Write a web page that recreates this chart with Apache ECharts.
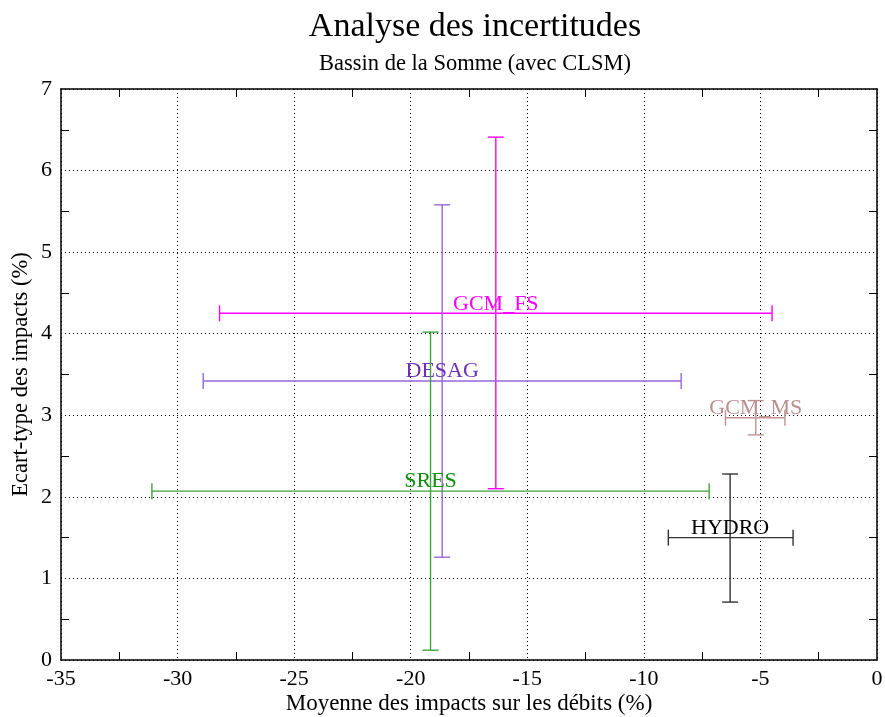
<!DOCTYPE html>
<html>
<head>
<meta charset="utf-8">
<script src="https://cdn.jsdelivr.net/npm/echarts@6/dist/echarts.min.js"></script>
<style>html,body{margin:0;padding:0;background:#fff}#c{width:885px;height:717px}</style>
</head>
<body>
<div id="c"></div>
<script>
// Data
const names   = ['GCM_FS', 'DESAG', 'SRES', 'GCM_MS', 'HYDRO'];
const meanX   = [-16.35, -18.65, -19.15, -5.2, -6.3];
const meanY   = [4.25, 3.42, 2.07, 2.97, 1.50];
const xLow    = [-28.2, -28.9, -31.1, -6.5, -8.95];
const xHigh   = [-4.5, -8.4, -7.2, -3.95, -3.6];
const yLow    = [2.10, 1.26, 0.12, 2.76, 0.71];
const yHigh   = [6.41, 5.58, 4.02, 3.18, 2.28];
const lineColors = ['#ff00ff', '#9a66d8', '#3ea23e', '#c09292', '#333333'];
const textColors = ['#ff00ff', '#7030b8', '#109010', '#bc8f8f', '#000000'];

const font = '"Liberation Serif", "Times New Roman", serif';
const chart = echarts.init(document.getElementById('c'));

function renderItem(params, api) {
  const cx = api.value(0), cy = api.value(1);
  const xl = api.value(2), xh = api.value(3), yl = api.value(4), yh = api.value(5);
  const idx = params.seriesIndex;
  const pL = api.coord([xl, cy]), pR = api.coord([xh, cy]);
  const pT = api.coord([cx, yh]), pB = api.coord([cx, yl]);
  const pc = api.coord([cx, cy]);
  const cap = 8;
  const st = { stroke: lineColors[idx], lineWidth: 1.4 };
  const ln = (x1, y1, x2, y2) => ({ type: 'line', shape: { x1, y1, x2, y2 }, style: st });
  return {
    type: 'group',
    children: [
      ln(pL[0], pL[1], pR[0], pR[1]),
      ln(pL[0], pL[1] - cap, pL[0], pL[1] + cap),
      ln(pR[0], pR[1] - cap, pR[0], pR[1] + cap),
      ln(pT[0], pT[1], pB[0], pB[1]),
      ln(pT[0] - cap, pT[1], pT[0] + cap, pT[1]),
      ln(pB[0] - cap, pB[1], pB[0] + cap, pB[1]),
      {
        type: 'text',
        style: {
          text: names[idx], x: pc[0], y: pc[1] - 9.5,
          align: 'center', verticalAlign: 'middle',
          fill: textColors[idx], font: '22px ' + font
        }
      }
    ]
  };
}

const series = names.map((n, i) => ({
  type: 'custom', name: n, renderItem,
  xAxisIndex: 0, yAxisIndex: 0,
  encode: { x: [0, 2, 3], y: [1, 4, 5] },
  data: [[meanX[i], meanY[i], xLow[i], xHigh[i], yLow[i], yHigh[i]]],
  z: 10
}));

const tickStyle = { color: '#000', width: 1 };
const axisLineStyle = { color: '#000', width: 1.5 };
const gridLine = { show: true, lineStyle: { color: '#000', width: 1, type: [1, 3] } };

chart.setOption({
  animation: false,
  backgroundColor: '#fff',
  title: [
    { text: 'Analyse des incertitudes', left: 470, top: 5, textAlign: 'center',
      textStyle: { fontFamily: font, fontSize: 34, fontWeight: 'normal', color: '#000' } },
    { text: 'Bassin de la Somme (avec CLSM)', left: 470, top: 48, textAlign: 'center',
      textStyle: { fontFamily: font, fontSize: 22.5, fontWeight: 'normal', color: '#000' } }
  ],
  grid: { left: 61, right: 8, top: 89, bottom: 57, containLabel: false, outerBoundsMode: 'none' },
  xAxis: [
    { type: 'value', min: -35, max: 0, interval: 5, position: 'bottom',
      name: 'Moyenne des impacts sur les débits (%)', nameLocation: 'middle', nameGap: 32,
      nameMoveOverlap: false,
      nameTextStyle: { fontFamily: font, fontSize: 23, color: '#000' },
      axisLine: { show: true, onZero: false, lineStyle: axisLineStyle },
      axisTick: { show: false, inside: true },
      minorTick: { show: true, splitNumber: 2, length: 8, lineStyle: tickStyle },
      axisLabel: { fontFamily: font, fontSize: 22, color: '#000', margin: 8 },
      splitLine: gridLine },
    { type: 'value', min: -35, max: 0, interval: 5, position: 'top',
      axisLine: { show: true, onZero: false, lineStyle: axisLineStyle },
      axisTick: { show: false, inside: true },
      minorTick: { show: true, splitNumber: 2, length: 8, lineStyle: tickStyle },
      axisLabel: { show: false }, splitLine: { show: false } }
  ],
  yAxis: [
    { type: 'value', min: 0, max: 7, interval: 1, position: 'left',
      name: 'Ecart-type des impacts (%)', nameLocation: 'middle', nameGap: 28, nameRotate: 90,
      nameMoveOverlap: false,
      nameTextStyle: { fontFamily: font, fontSize: 22.5, color: '#000' },
      axisLine: { show: true, onZero: false, lineStyle: axisLineStyle },
      axisTick: { show: false, inside: true },
      minorTick: { show: true, splitNumber: 2, length: 8, lineStyle: tickStyle },
      axisLabel: { fontFamily: font, fontSize: 22, color: '#000', margin: 9 },
      splitLine: gridLine },
    { type: 'value', min: 0, max: 7, interval: 1, position: 'right',
      axisLine: { show: true, onZero: false, lineStyle: axisLineStyle },
      axisTick: { show: false, inside: true },
      minorTick: { show: true, splitNumber: 2, length: 8, lineStyle: tickStyle },
      axisLabel: { show: false }, splitLine: { show: false } }
  ],
  series
});
</script>
</body>
</html>
